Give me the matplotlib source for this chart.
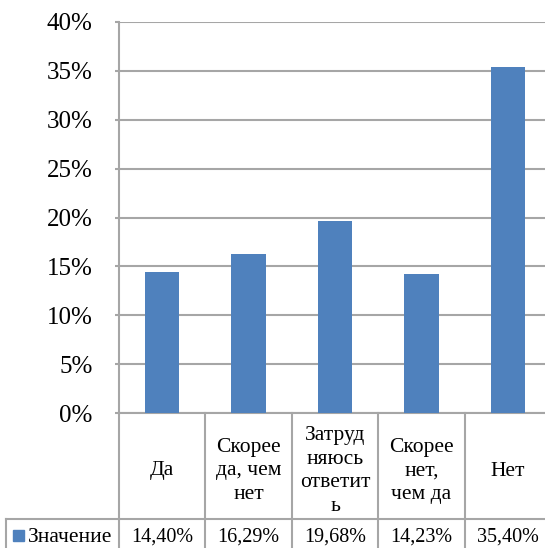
import matplotlib
matplotlib.use("Agg")
import matplotlib.pyplot as plt
from matplotlib.transforms import blended_transform_factory
from matplotlib.lines import Line2D
from matplotlib.patches import Rectangle

categories = ["Да", "Скорее\nда, чем\nнет", "Затруд\nняюсь\nответит\nь", "Скорее\nнет,\nчем да", "Нет"]
values = [14.40, 16.29, 19.68, 14.23, 35.40]
value_labels = ["14,40%", "16,29%", "19,68%", "14,23%", "35,40%"]
series_name = "Значение"
yticks = [0, 5, 10, 15, 20, 25, 30, 35, 40]

plt.rcParams['font.family'] = ['Liberation Serif', 'DejaVu Serif']

W, H = 545, 548
fig = plt.figure(figsize=(W / 100, H / 100), dpi=100)
left_px, right_px, top_px, bot_px = 119, 551, 22, 413
ax = fig.add_axes([left_px / W, (H - bot_px) / H, (right_px - left_px) / W, (bot_px - top_px) / H])

bar_color = "#4F81BD"
grid_color = "#A6A6A6"
x = list(range(len(categories)))
ax.bar(x, values, width=0.4, color=bar_color, zorder=3)
ax.set_xlim(-0.5, len(categories) - 0.5)
ax.set_ylim(0, 40)
ax.set_yticks(yticks)
ax.set_yticklabels([f"{t}%" for t in yticks], fontsize=18)
ax.set_xticks([])
ax.yaxis.grid(True, color=grid_color, linewidth=1.5, zorder=0)
for s in ["top", "right", "bottom"]:
    ax.spines[s].set_visible(False)
ax.spines["left"].set_color(grid_color)
ax.spines["left"].set_linewidth(1.5)
ax.tick_params(axis="y", length=3, width=1.5, color=grid_color, pad=16)

# data table below
axh = bot_px - top_px
def ay(py):
    return -(py - bot_px) / axh

tr = blended_transform_factory(ax.transData, ax.transAxes)
row1_bot = ay(519)
row2_bot = ay(560)
xl = -0.5
xr = len(categories) - 0.5
lw = 1.5
lc = grid_color
kw = dict(transform=tr, clip_on=False, color=lc, linewidth=lw)
ax.add_line(Line2D([xl, xr], [0, 0], **kw))
ax.add_line(Line2D([xl, xr], [row1_bot, row1_bot], **kw))
x_leg_left = (6 - left_px) / (right_px - left_px) * len(categories) - 0.5
ax.add_line(Line2D([x_leg_left, xl], [row1_bot, row1_bot], **kw))
ax.add_line(Line2D([x_leg_left, x_leg_left], [row1_bot, row2_bot], **kw))
for i in range(len(categories) + 1):
    xv = i - 0.5
    ax.add_line(Line2D([xv, xv], [0, row2_bot], **kw))

for i, (c, v) in enumerate(zip(categories, value_labels)):
    ax.text(i, ay(471), c, transform=tr, ha="center", va="center",
            fontsize=15.5, linespacing=1.32, clip_on=False)
    ax.text(i, ay(537), v, transform=tr, ha="center", va="center",
            fontsize=14.5, clip_on=False)

# legend key + series name
px2x = len(categories) / (right_px - left_px)
ax.add_patch(Rectangle((x_leg_left + 7 * px2x, ay(541)), 11 * px2x, 11 / axh, transform=tr,
                       color=bar_color, clip_on=False))
ax.text(x_leg_left + 22 * px2x, ay(537), series_name, transform=tr, ha="left", va="center",
        fontsize=15.5, clip_on=False)

fig.savefig("out.png", dpi=100)
